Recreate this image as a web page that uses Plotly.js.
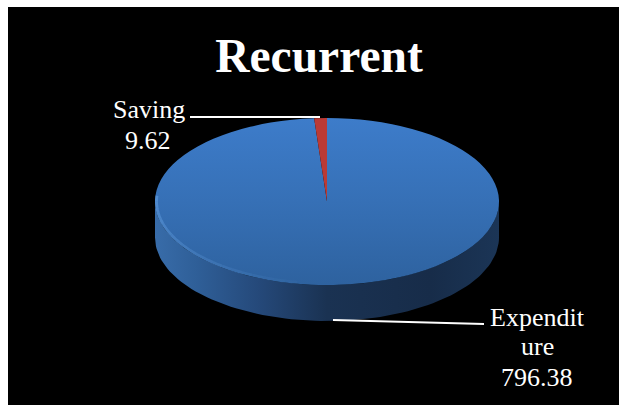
<!DOCTYPE html>
<html><head><meta charset="utf-8">
<script src="https://cdn.plot.ly/plotly-3.0.1.min.js"></script>
<style>html,body{margin:0;padding:0;background:#fff}</style></head>
<body><div id="chart" style="width:619px;height:405px"></div>
<script>
const categories = ['Expenditure', 'Saving'];
const values = [796.38, 9.62];
const sliceColors = ['#3a76bf', '#bb3a35'];
const titleText = 'Recurrent';
const savingLines = ['Saving', '9.62'];
const expenditureLines = ['Expendit', 'ure', '796.38'];

const W = 619, H = 405, L = 8, T = 7, R = 0, B = 0;
const plotW = W - L - R, plotH = H - T - B;
const cx = 327, cy = 201.5, rx = 172, ry = 83.5, depth = 36;

// Side wall of the disc, lower half of the ellipse extruded downward
const wallX = [], wallY = [];
for (let d = 0; d <= 180; d += 2) { const a = d * Math.PI / 180; wallX.push(cx + rx * Math.cos(a)); wallY.push(cy + ry * Math.sin(a)); }
for (let d = 180; d >= 0; d -= 2) { const a = d * Math.PI / 180; wallX.push(cx + rx * Math.cos(a)); wallY.push(cy + depth + ry * Math.sin(a)); }

const wall = {
  type: 'scatter', mode: 'lines', x: wallX, y: wallY, fill: 'toself',
  line: {width: 0, color: 'rgba(0,0,0,0)'}, hoverinfo: 'skip', showlegend: false,
  fillgradient: {type: 'horizontal', colorscale: [[0, '#386ca9'], [0.12, '#2f5f98'], [0.3, '#25497a'], [0.5, '#1a3252'], [0.8, '#172c49'], [1, '#1b3556']]}
};
const pie = {
  type: 'pie', labels: categories, values: values, sort: false, direction: 'clockwise', rotation: 0,
  marker: {colors: sliceColors, line: {width: 0}}, textinfo: 'none', hoverinfo: 'label+value', showlegend: false,
  domain: {x: [(cx - rx - L) / plotW, (cx + rx - L) / plotW], y: [1 - (cy + rx - T) / plotH, 1 - (cy - rx - T) / plotH]}
};

// Bevel highlight along the front rim, fading toward the front of the disc
const rim = [];
for (let d = 100; d < 182; d += 4) {
  const pts = [];
  for (let e = d; e <= d + 4; e += 1) { const a = e * Math.PI / 180; pts.push((cx + (rx - 1.5) * Math.cos(a)) + ' ' + (cy + (ry - 1.5) * Math.sin(a))); }
  const op = 0.04 + 0.36 * (d - 100) / 82;
  rim.push({type: 'path', xref: 'x', yref: 'y', layer: 'above', path: 'M' + pts.join(' L'), line: {color: 'rgba(120,180,245,' + op + ')', width: 3}});
}
const leader = (x0, y0, x1, y1) => ({type: 'line', xref: 'x', yref: 'y', layer: 'above', x0, y0, x1, y1, line: {color: '#fff', width: 2}});
const textAt = (text, x, y) => ({text, x, y, xref: 'x', yref: 'y', xanchor: 'center', yanchor: 'middle', showarrow: false, font: {family: 'Liberation Serif', size: 26, color: '#fff'}});

const layout = {
  width: W, height: H, margin: {l: L, r: R, t: T, b: B, pad: 0},
  paper_bgcolor: '#fff', plot_bgcolor: '#000',
  title: {text: titleText, font: {family: 'Liberation Serif', size: 47.5, color: '#fff', weight: 'bold'}, x: (319 - L) / plotW, xref: 'paper', xanchor: 'center', y: 1 - 55.5 / H, yanchor: 'middle'},
  xaxis: {range: [L, W - R], visible: false, fixedrange: true},
  yaxis: {range: [H - B, T], visible: false, fixedrange: true},
  shapes: rim.concat([leader(190, 117, 320, 117), leader(333, 320, 484, 324)]),
  annotations: [
    textAt(savingLines[0], 149, 109), textAt(savingLines[1], 148, 140),
    textAt(expenditureLines[0], 537, 317), textAt(expenditureLines[1], 537, 346.5), textAt(expenditureLines[2], 537, 377)
  ],
  showlegend: false
};

Plotly.newPlot('chart', [wall, pie], layout, {displayModeBar: false, staticPlot: true}).then(gd => {
  const svg = gd.querySelector('.main-svg');
  const defs = svg.querySelector('defs');
  const ns = 'http://www.w3.org/2000/svg';
  const grad = document.createElementNS(ns, 'linearGradient');
  grad.id = 'topFace'; grad.setAttribute('x1', 0); grad.setAttribute('y1', 0); grad.setAttribute('x2', 0); grad.setAttribute('y2', 1);
  [['0', '#3d7cca'], ['0.5', '#3670b6'], ['1', '#2e629f']].forEach(([o, c]) => {
    const s = document.createElementNS(ns, 'stop'); s.setAttribute('offset', o); s.setAttribute('stop-color', c); grad.appendChild(s);
  });
  defs.appendChild(grad);
  gd.querySelectorAll('.pielayer .slice path.surface').forEach((p, i) => { if (i === 0) p.style.fill = 'url(#topFace)'; });
  const layer = gd.querySelector('.pielayer');
  layer.setAttribute('transform', `translate(0 ${cy}) scale(1 ${ry / rx}) translate(0 ${-cy})`);
});
</script></body></html>
